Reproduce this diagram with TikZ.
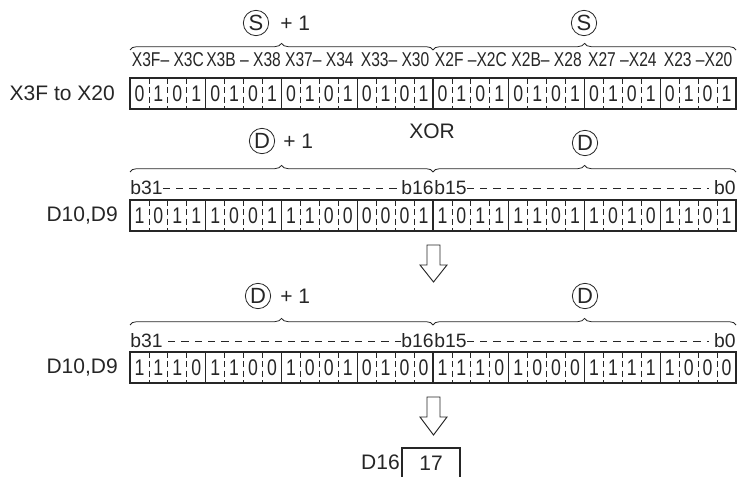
\documentclass[tikz,border=0pt]{standalone}
\usepackage{fontspec}
\setmainfont{Liberation Sans}
\newfontfamily\narrowfont[FakeStretch=0.78]{Liberation Sans}
\usetikzlibrary{decorations.pathreplacing}

\begin{document}
\begin{tikzpicture}[
    x=0.75pt,
    y=-0.75pt,
    font=\fontsize{15.75}{18}\selectfont,
    every node/.style={text=black!85,inner sep=0pt},
    reg/.style={draw=black!85,line width=0.9pt},
    sep/.style={draw=black!85,line width=0.6pt,dash pattern=on 4.5pt off 2.5pt},
    bit/.style={font=\narrowfont\fontsize{17}{20}\selectfont},
    xlab/.style={font=\narrowfont\fontsize{15}{18}\selectfont},
    blab/.style={font=\fontsize{14.5}{17}\selectfont},
    guia/.style={draw=black!85,line width=0.7pt,dash pattern=on 5.5pt off 4.5pt},
    llave/.style={draw=black!85,line width=0.6pt,decorate,
        decoration={brace,amplitude=5pt}},
    opnd/.style={circle,draw=black!85,line width=0.6pt,minimum size=19pt,
        font=\fontsize{16.5}{18}\selectfont},
    hueco/.style={draw=black!85,line width=0.7pt,fill=white}
]
    \useasboundingbox (0,0) rectangle (741,477);

    % operands and braces
    \node[opnd] (s1) at (256,23) {S};
    \node[anchor=west] (s1p) at (280,23) {+ 1};
    \node[opnd] (s0) at (584,23) {S};
    \draw[llave] (130,50) -- (433,50);
    \draw[llave] (433,50) -- (736,50);

    \node[xlab] (x7) at (167.9,60) {X3F– X3C};
    \node[xlab] (x6) at (243.6,60) {X3B – X38};
    \node[xlab] (x5) at (319.4,60) {X37– X34};
    \node[xlab] (x4) at (395.1,60) {X33– X30};
    \node[xlab] (x3) at (470.9,60) {X2F –X2C};
    \node[xlab] (x2) at (546.6,60) {X2B– X28};
    \node[xlab] (x1) at (622.4,60) {X27 –X24};
    \node[xlab] (x0) at (698.1,60) {X23 –X20};

    % registers
    \node[reg,minimum width=454.5pt,minimum height=23.25pt] (srcx) at (433,93.5) {};
    \node[reg,minimum width=454.5pt,minimum height=23.25pt] (dsta) at (433,215.5) {};
    \node[reg,minimum width=454.5pt,minimum height=23.25pt] (dstb) at (433,367.5) {};
    \foreach \t in {78,200,352} {
        \foreach \g in {1,...,7}
            \draw[reg] ({130+75.75*\g},\t) -- ++(0,31);
        \foreach \g in {0,...,7}
            \foreach \k in {1,2,3}
                \draw[sep] ({130+75.75*\g+18.9375*\k},\t) -- ++(0,31);
    }
    \node[anchor=east] (lsrc) at (115,93.5) {X3F to X20};
    \node[anchor=east] (ldsta) at (118,215.5) {D10,D9};
    \node[anchor=east] (ldstb) at (118,367.5) {D10,D9};

    \foreach \v [count=\i from 0] in {0,1,0,1,0,1,0,1,0,1,0,1,0,1,0,1,
                                      0,1,0,1,0,1,0,1,0,1,0,1,0,1,0,1}
        \node[bit] (a\i) at ({130+18.9375*(\i+0.5)},94) {\v};
    \foreach \v [count=\i from 0] in {1,0,1,1,1,0,0,1,1,1,0,0,0,0,0,1,
                                      1,0,1,1,1,1,0,1,1,0,1,0,1,1,0,1}
        \node[bit] (b\i) at ({130+18.9375*(\i+0.5)},216) {\v};
    \foreach \v [count=\i from 0] in {1,1,1,0,1,1,0,0,1,0,0,1,0,1,0,0,
                                      1,1,1,0,1,0,0,0,1,1,1,1,1,0,0,0}
        \node[bit] (c\i) at ({130+18.9375*(\i+0.5)},368) {\v};

    \node (xor) at (432,131) {XOR};

    % D10,D9 before
    \node[opnd] (d1) at (262,141) {D};
    \node[anchor=west] (d1p) at (283,141) {+ 1};
    \node[opnd] (d0) at (585,143) {D};
    \draw[llave] (130,172) -- (433,172);
    \draw[llave] (433,172) -- (736,172);
    \node[blab,anchor=west] (b31) at (130,188) {b31};
    \node[blab,anchor=east] (b16) at (434,188) {b16};
    \node[blab,anchor=west] (b15) at (434,188) {b15};
    \node[blab,anchor=east] (b0) at (736,188) {b0};
    \draw[guia] (b31.east) -- (b16.west);
    \draw[guia] (b15.east) -- ([xshift=-4pt]b0.west);

    \draw[hueco] (427,245) -- (440,245) -- (440,265) -- (447,265) -- (433.5,282)
        -- (420,265) -- (427,265) -- cycle;

    % D10,D9 after
    \node[opnd] (e1) at (258,296) {D};
    \node[anchor=west] (e1p) at (280,296) {+ 1};
    \node[opnd] (e0) at (585,296) {D};
    \draw[llave] (130,325) -- (433,325);
    \draw[llave] (433,325) -- (736,325);
    \node[blab,anchor=west] (c31) at (130,341) {b31};
    \node[blab,anchor=east] (c16) at (434,341) {b16};
    \node[blab,anchor=west] (c15) at (434,341) {b15};
    \node[blab,anchor=east] (c0) at (736,341) {b0};
    \draw[guia] ([xshift=4pt]c31.east) -- (c16.west);
    \draw[guia] (c15.east) -- ([xshift=-4pt]c0.west);

    \draw[hueco] (427,397) -- (440,397) -- (440,417) -- (447,417) -- (433.5,435)
        -- (420,417) -- (427,417) -- cycle;

    % result
    \node[anchor=east] (d16) at (400,462) {D16};
    \node (val) at (431,463) {17};
    \draw[reg] (402,480) -- (402,448) -- (460,448) -- (460,480);
\end{tikzpicture}
\end{document}
